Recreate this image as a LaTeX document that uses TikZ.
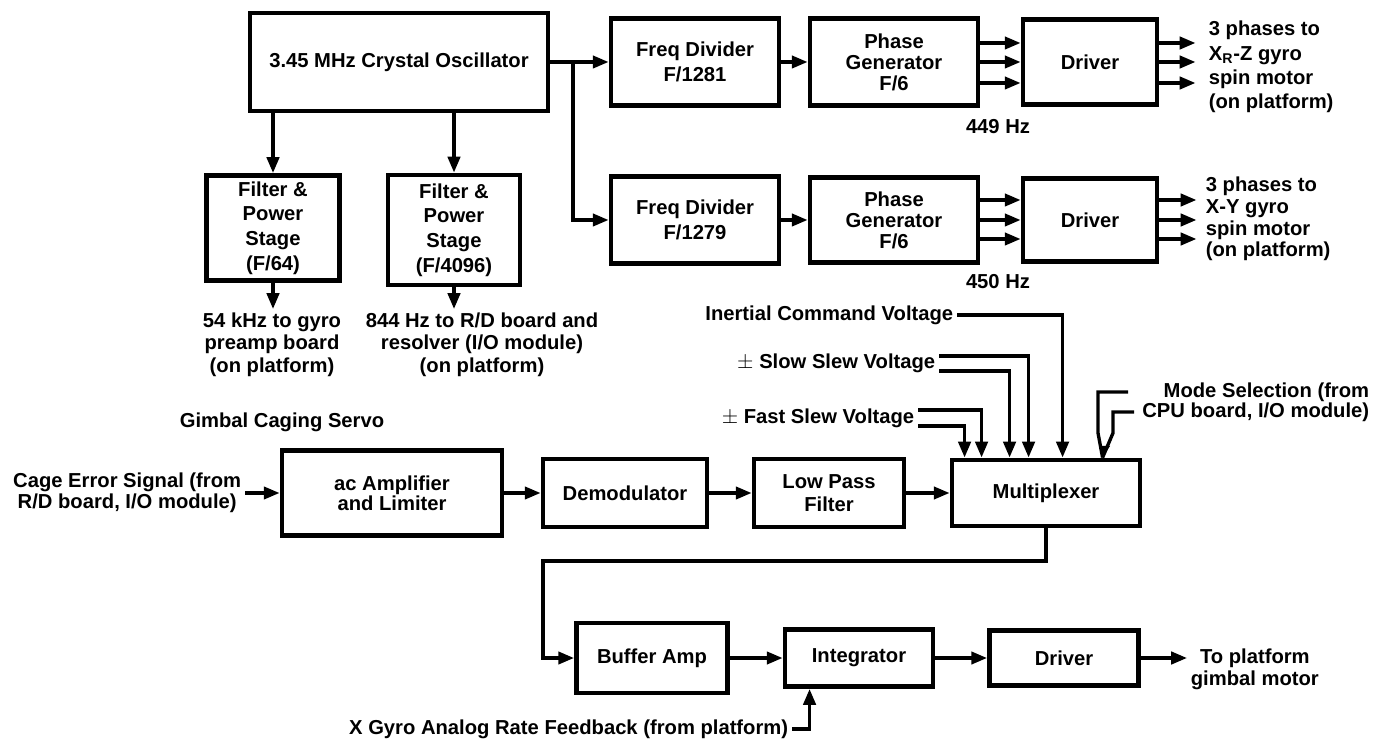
\documentclass[tikz,border=0pt]{standalone}
\usepackage{fontspec}
\setmainfont{Liberation Sans}
\usetikzlibrary{arrows.meta, calc}
\newcommand{\blkfont}{\fontsize{11.5}{13.8}\selectfont\bfseries}
\newcommand{\tightfont}[1]{\fontsize{11.5}{#1}\selectfont\bfseries}

\begin{document}
\begin{tikzpicture}[x=0.02cm, y=-0.02cm,
  blk/.style={draw, line width=2.8pt, inner sep=0pt, align=center, font=\blkfont},
  labeltext/.style={font=\blkfont, align=center, inner sep=2pt},
  sig/.style={line width=1.9pt, -{Triangle[length=9pt, width=7pt]}},
  wire/.style={line width=1.9pt}
]
\useasboundingbox (0,0) rectangle (1381,742);

%% Crystal oscillator and dividers
\node[blk, minimum width=5.96cm, minimum height=1.96cm] (osc) at (399,62) {3.45 MHz Crystal Oscillator};
\node[blk, minimum width=2.66cm, minimum height=2.1cm, font=\tightfont{14}] (flt1) at (273,228) {Filter \&\\Power\\Stage\\(F/64)};
\node[blk, minimum width=2.64cm, minimum height=2.2cm, font=\tightfont{14}] (flt2) at (454,230) {Filter \&\\Power\\Stage\\(F/4096)};
\node[labeltext, anchor=north, font=\tightfont{12.8}] (out1) at (272,309) {54 kHz to gyro\\preamp board\\(on platform)};
\node[labeltext, anchor=north, font=\tightfont{12.8}] (out2) at (482,309) {844 Hz to R/D board and\\resolver (I/O module)\\(on platform)};

\node[blk, minimum width=3.36cm, minimum height=1.74cm] (fd1) at (695,62) {Freq Divider\\F/1281};
\node[blk, minimum width=3.36cm, minimum height=1.74cm, font=\tightfont{12}] (pg1) at (894,62) {Phase\\Generator\\F/6};
\node[blk, minimum width=2.68cm, minimum height=1.7cm] (drv1) at (1090,62) {Driver};
\node[labeltext, anchor=west, align=left] (ph1) at (1205,67) {3 phases to\\X\textsubscript{R}-Z gyro\\spin motor\\(on platform)};
\node[labeltext] (hz1) at (998,127) {449 Hz};

\node[blk, minimum width=3.36cm, minimum height=1.74cm] (fd2) at (695,220) {Freq Divider\\F/1279};
\node[blk, minimum width=3.36cm, minimum height=1.7cm, font=\tightfont{12}] (pg2) at (894,220) {Phase\\Generator\\F/6};
\node[blk, minimum width=2.68cm, minimum height=1.66cm] (drv2) at (1090,220) {Driver};
\node[labeltext, anchor=west, align=left, font=\tightfont{12.3}] (ph2) at (1202,219) {3 phases to\\X-Y gyro\\spin motor\\(on platform)};
\node[labeltext] (hz2) at (998,282) {450 Hz};

\draw[sig] (osc.east) -- (fd1.west);
\coordinate (br) at (573,62);
\draw[sig] (br) |- (fd2.west);
\draw[sig] (osc.south -| flt1.north) -- (flt1.north);
\draw[sig] (osc.south -| flt2.north) -- (flt2.north);
\draw[sig] (flt1.south) -- (flt1.south |- out1.north);
\draw[sig] (flt2.south) -- (flt2.south |- out2.north);
\draw[sig] (fd1.east) -- (pg1.west);
\draw[sig] (fd2.east) -- (pg2.west);
\foreach \dy in {-19,0,21} {
  \draw[sig] ($(pg1.east)+(0,\dy)$) -- ($(drv1.west)+(0,\dy)$);
  \draw[sig] ($(drv1.east)+(0,\dy)$) -- ++(36,0);
}
\foreach \dy in {-20,0,19} {
  \draw[sig] ($(pg2.east)+(0,\dy)$) -- ($(drv2.west)+(0,\dy)$);
  \draw[sig] ($(drv2.east)+(0,\dy)$) -- ++(37,0);
}

%% Gimbal caging servo
\node[labeltext] (gcs) at (282,422) {Gimbal Caging Servo};
\node[labeltext, anchor=east, font=\tightfont{10.5}] (cage) at (245,493) {Cage Error Signal (from\\R/D board, I/O module)};
\node[blk, minimum width=4.4cm, minimum height=1.7cm, font=\tightfont{11.5}] (amp) at (392,493) {ac Amplifier\\and Limiter};
\node[blk, minimum width=3.28cm, minimum height=1.36cm] (demod) at (625,493) {Demodulator};
\node[blk, minimum width=3.0cm, minimum height=1.36cm, font=\tightfont{13}] (lpf) at (829,493) {Low Pass\\Filter};
\node[blk, minimum width=3.76cm, minimum height=1.32cm] (mux) at (1046,493) {Multiplexer};

\node[labeltext, anchor=east] (icv) at (957,315) {Inertial Command Voltage};
\node[labeltext, anchor=east] (ssv) at (939,363) {$\pm$ Slow Slew Voltage};
\node[labeltext, anchor=east] (fsv) at (918,418) {$\pm$ Fast Slew Voltage};
\node[labeltext, anchor=east, align=right, font=\tightfont{11.4}] (mode) at (1373,402) {Mode Selection (from\\CPU board, I/O module)};

\draw[sig] (cage.east) -- (amp.west);
\draw[sig] (amp.east) -- (demod.west);
\draw[sig] (demod.east) -- (lpf.west);
\draw[sig] (lpf.east) -- (mux.west);
\draw[sig] (icv.east) -| ($(mux.north west)+(113,0)$);
\draw[sig] ($(ssv.east)+(0,-7)$) -| ($(mux.north west)+(79,0)$);
\draw[sig] ($(ssv.east)+(0,8)$) -| ($(mux.north west)+(60,0)$);
\draw[sig] ($(fsv.east)+(0,-8)$) -| ($(mux.north west)+(32,0)$);
\draw[sig] ($(fsv.east)+(0,8)$) -| ($(mux.north west)+(15,0)$);
\coordinate (ms1) at (1128,392);
\coordinate (ms2) at (1134,412);
\coordinate (mstip) at ($(mux.north west)+(153,0)$);
\draw[wire] (ms1) -- (1098,392) -- (1098,433) -- (mstip);
\draw[wire] (ms2) -- (1113,412) -- (1113,433) -- (mstip);
\fill (1101,446) -- (1110,446) -- (mstip) -- cycle;

%% Output stage
\node[blk, minimum width=3.02cm, minimum height=1.4cm] (buf) at (652,658) {Buffer Amp};
\node[blk, minimum width=2.96cm, minimum height=1.14cm] (integ) at (859,658) {Integrator};
\node[blk, minimum width=2.98cm, minimum height=1.1cm] (drv3) at (1064,658) {Driver};
\node[labeltext, anchor=west, font=\tightfont{12.5}] (gm) at (1187,669) {To platform\\gimbal motor};
\node[labeltext, anchor=east] (fb) at (792,729) {X Gyro Analog Rate Feedback (from platform)};

\coordinate (lp) at (543,561);
\draw[sig] (mux.south) |- (lp) |- (buf.west);
\draw[sig] (buf.east) -- (integ.west);
\draw[sig] (integ.east) -- (drv3.west);
\draw[sig] (drv3.east) -- (drv3.east -| gm.west);
\draw[sig] (fb.east) -| ($(integ.south west)+(27,0)$);
\end{tikzpicture}
\end{document}
